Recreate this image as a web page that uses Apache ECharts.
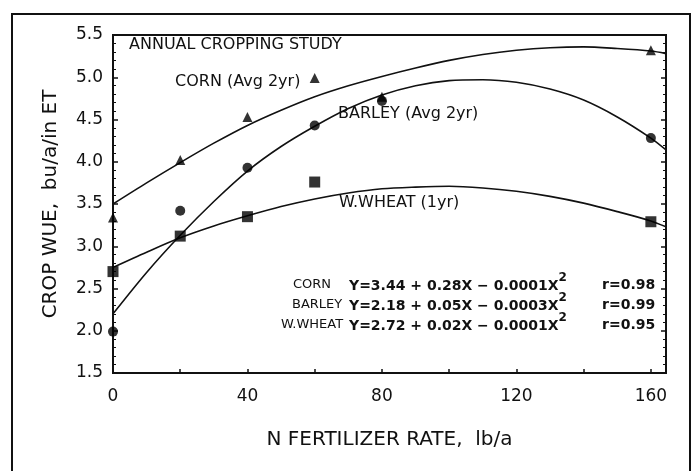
<!DOCTYPE html>
<html lang="en">
<head>
<meta charset="utf-8">
<title>Crop WUE</title>
<style>
  html, body { margin: 0; padding: 0; background: #fff; }
  #main { width: 699px; height: 471px; }
</style>
</head>
<body>
<div id="main"></div>
<script src="https://cdn.jsdelivr.net/npm/echarts@6/dist/echarts.min.js"></script>
<script>
// measured points
var cornX = [0, 20, 40, 60, 80, 160];
var cornY = [3.34, 4.02, 4.53, 4.99, 4.77, 5.32];
var barleyX = [0, 20, 40, 60, 80, 160];
var barleyY = [1.99, 3.42, 3.93, 4.43, 4.72, 4.28];
var wheatX = [0, 20, 40, 60, 160];
var wheatY = [2.70, 3.12, 3.35, 3.76, 3.29];

// fitted curves, every 10 lb/a
var curveX = [0, 10, 20, 30, 40, 50, 60, 70, 80, 90, 100, 110, 120, 130, 140, 150, 160, 164.5];
var cornFit = [3.50, 3.75, 3.99, 4.22, 4.43, 4.61, 4.77, 4.90, 5.01, 5.11, 5.20, 5.27, 5.32, 5.35, 5.36, 5.34, 5.31, 5.28];
var barleyFit = [2.20, 2.69, 3.13, 3.53, 3.89, 4.18, 4.42, 4.63, 4.79, 4.90, 4.96, 4.97, 4.94, 4.86, 4.73, 4.53, 4.28, 4.14];
var wheatFit = [2.75, 2.93, 3.10, 3.24, 3.36, 3.47, 3.56, 3.63, 3.68, 3.70, 3.71, 3.69, 3.65, 3.59, 3.51, 3.41, 3.30, 3.23];

var eqNames = ['CORN', 'BARLEY', 'W.WHEAT'];
var eqText = ['Y=3.44 + 0.28X \u2212 0.0001X', 'Y=2.18 + 0.05X \u2212 0.0003X', 'Y=2.72 + 0.02X \u2212 0.0001X'];
var eqR = ['r=0.98', 'r=0.99', 'r=0.95'];

function pairs(xs, ys) {
    return xs.map(function (x, i) { return [x, ys[i]]; });
}

var chart = echarts.init(document.getElementById('main'));
var ff = 'DejaVu Sans';
var ink = '#111';

function note(x, y, text) {
    return { type: 'text', x: x, y: y, style: { text: text, font: '16px ' + ff, fill: ink, verticalAlign: 'middle' } };
}

var graphics = [
    { type: 'rect', shape: { x: 12, y: 14, width: 678, height: 480 }, style: { fill: 'none', stroke: ink, lineWidth: 2 } },
    note(129, 45, 'ANNUAL CROPPING STUDY'),
    note(175, 82, 'CORN (Avg 2yr)'),
    note(338, 114, 'BARLEY (Avg 2yr)'),
    note(339, 203, 'W.WHEAT (1yr)')
];
var rowY = [285, 305, 325];
var nameLeft = [293, 292, 281];
eqNames.forEach(function (n, i) {
    graphics.push({ type: 'text', x: nameLeft[i], y: rowY[i], style: { text: n, font: '13px ' + ff, fill: ink, verticalAlign: 'middle' } });
    graphics.push({
        type: 'text', x: 349, y: rowY[i] - 13,
        style: {
            text: '{a|' + eqText[i] + '}{s|2}', fill: ink,
            rich: {
                a: { fontFamily: ff, fontSize: 14, fontWeight: 'bold', lineHeight: 21, verticalAlign: 'bottom' },
                s: { fontFamily: ff, fontSize: 12, fontWeight: 'bold', lineHeight: 12, verticalAlign: 'top' }
            }
        }
    });
    graphics.push({ type: 'text', x: 602, y: rowY[i], style: { text: eqR[i], font: 'bold 14px ' + ff, fill: ink, verticalAlign: 'middle' } });
});

function fitLine(data) {
    return {
        type: 'line', data: data, smooth: 0.3, showSymbol: false, silent: true,
        lineStyle: { color: ink, width: 1.6 }, z: 2
    };
}
function marks(data, symbol, size) {
    return {
        type: 'scatter', data: data, symbol: symbol, symbolSize: size,
        itemStyle: { color: '#000' }, z: 3
    };
}

var yTickAxis = {
    type: 'value', min: 1.5, max: 5.5, interval: 0.5,
    axisLine: { show: true, lineStyle: { color: ink, width: 2 } },
    axisTick: { inside: true, length: 5, lineStyle: { color: ink, width: 1.5 } },
    minorTick: { show: true, splitNumber: 5, length: 3, lineStyle: { color: ink } },
    splitLine: { show: false }
};

var option = {
    backgroundColor: '#fff',
    animation: false,
    grid: { left: 113, right: 33, top: 35, bottom: 98, show: true, borderColor: ink, borderWidth: 2 },
    xAxis: {
        type: 'value', min: 0, max: 164.5, interval: 20,
        name: 'N FERTILIZER RATE,  lb/a', nameLocation: 'middle', nameGap: 57,
        nameTextStyle: { fontFamily: ff, fontSize: 20, color: ink },
        axisLine: { lineStyle: { color: ink, width: 2 } },
        axisTick: { inside: true, length: 4, lineStyle: { color: ink, width: 1.5 } },
        axisLabel: {
            fontFamily: ff, fontSize: 17, color: ink, margin: 15,
            formatter: function (v) { return v % 40 === 0 ? String(v) : ''; }
        },
        splitLine: { show: false }
    },
    yAxis: [
        Object.assign({}, yTickAxis, {
            position: 'left',
            name: 'CROP WUE,  bu/a/in ET', nameLocation: 'middle', nameGap: 52, nameRotate: 90,
            nameTextStyle: { fontFamily: ff, fontSize: 20, color: ink },
            axisLabel: { fontFamily: ff, fontSize: 17, color: ink, margin: 10, formatter: function (v) { return v.toFixed(1); } }
        }),
        Object.assign({}, yTickAxis, { position: 'right', axisLabel: { show: false } })
    ],
    graphic: graphics,
    series: [
        fitLine(pairs(curveX, cornFit)),
        fitLine(pairs(curveX, barleyFit)),
        fitLine(pairs(curveX, wheatFit)),
        marks(pairs(cornX, cornY), 'triangle', 10),
        marks(pairs(barleyX, barleyY), 'circle', 10),
        marks(pairs(wheatX, wheatY), 'rect', 11)
    ]
};
chart.setOption(option);
</script>
</body>
</html>
